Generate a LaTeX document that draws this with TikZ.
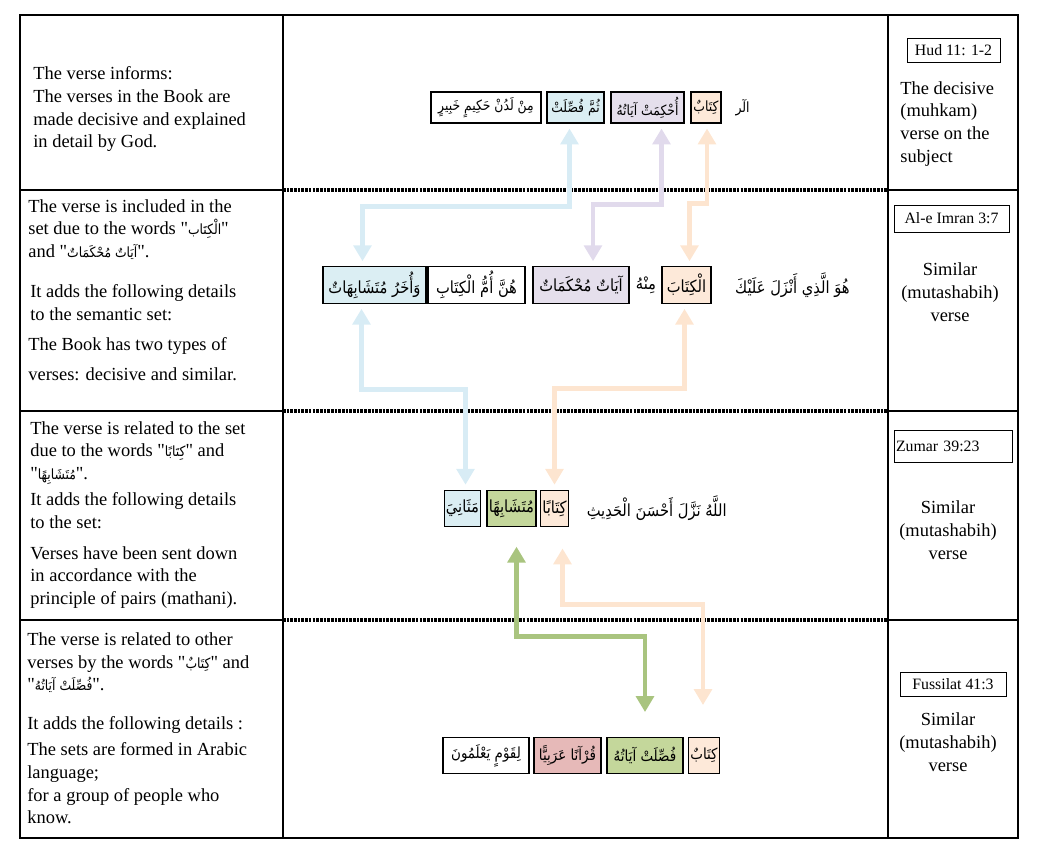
\documentclass[tikz,border=0pt]{standalone}
\usepackage{fontspec}
\setmainfont{Liberation Serif}[Ligatures=TeXOff]
\newfontfamily\arabicfont[Script=Arabic, FakeStretch=0.88]{DejaVu Sans}
\TeXXeTstate=1
\usetikzlibrary{arrows.meta, calc}
\definecolor{kitaborange}{RGB}{253,233,217}
\definecolor{muhkampurple}{RGB}{229,223,236}
\definecolor{fusilblue}{RGB}{219,238,243}
\definecolor{mutagreen}{RGB}{196,215,155}
\definecolor{arabired}{RGB}{230,185,184}
\definecolor{arrorange}{RGB}{253,229,208}
\definecolor{arrpurple}{RGB}{225,218,236}
\definecolor{arrblue}{RGB}{216,236,245}
\definecolor{arrgreen}{RGB}{169,196,127}
\newcommand{\arw}[1]{{\arabicfont\beginR #1\endR}}

\tikzset{
  grid/.style={line width=0.6pt},
  rowsep/.style={line width=2pt, dash pattern=on 1.5pt off 0.6pt},
  wordbox/.style={draw, line width=0.7pt, inner xsep=1pt, inner ysep=0pt, minimum height=0.73cm, font=\fontsize{9.5}{11}\selectfont},
  plainword/.style={inner sep=0pt, font=\fontsize{9.5}{11}\selectfont},
  hudword/.style={font=\fontsize{8}{10}\selectfont, minimum height=0.62cm},
  fussword/.style={font=\fontsize{8.7}{10.5}\selectfont},
  note/.style={align=left, inner sep=0pt, anchor=north west, font=\fontsize{10.5}{13}\selectfont},
  ref/.style={draw, line width=0.5pt, inner sep=1pt, font=\fontsize{9}{11}\selectfont},
  kind/.style={align=center, inner sep=0pt, font=\fontsize{10.5}{13}\selectfont},
  link/.style={{Triangle[width=10pt,length=9pt]}-{Triangle[width=10pt,length=9pt]}, line width=2.8pt, line join=miter, shorten <=2.8pt, shorten >=2.8pt},
}

\begin{document}
\begin{tikzpicture}[x=0.02cm, y=-0.02cm]
  \useasboundingbox (0,0) rectangle (1037,848);

  % table
  \draw[grid] (20,15) rectangle (1018,838);
  \draw[grid] (283,15) -- (283,838) (888,15) -- (888,838);
  \foreach \y in {190,411,620} {
    \draw[grid] (20,\y) -- (283,\y) (888,\y) -- (1018,\y);
    \draw[rowsep] (283,\y) -- (888,\y);
  }

  % left column
  \node[note] (n1) at (33,66) {The verse informs:\\The verses in the Book are\\made decisive and explained\\in detail by God.};
  \node[note] (n2a) at (28,199) {The verse is included in the\\set due to the words "{\footnotesize\arw{الْكِتَاب}}"\\and "{\footnotesize\arw{آيَاتٌ مُحْكَمَاتٌ}}".};
  \node[note] (n2b) at (30,284) {It adds the following details\\to the semantic set:};
  \node[note] (n2c) at (28,337) {The Book has two types of\\[4pt]verses: decisive and similar.};
  \node[note] (n3a) at (30,421) {The verse is related to the set\\due to the words "{\footnotesize\arw{كِتَابًا}}" and\\"{\footnotesize\arw{مُتَشَابِهًا}}".};
  \node[note] (n3b) at (30,492) {It adds the following details\\to the set:};
  \node[note] (n3c) at (30,546) {Verses have been sent down\\in accordance with the\\principle of pairs (mathani).};
  \node[note] (n4a) at (27,632) {The verse is related to other\\verses by the words "{\footnotesize\arw{كِتَابٌ}}" and\\"{\footnotesize\arw{فُصِّلَتْ آيَاتُهُ}}".};
  \node[note] (n4b) at (27,716) {It adds the following details :};
  \node[note] (n4c) at (27,742) {The sets are formed in Arabic\\language;\\for a group of people who\\know.};

  % right column
  \node[ref, minimum width=1.86cm, minimum height=0.48cm] (hud) at (953.5,50) {Hud 11: 1-2};
  \node[note] (k1) at (900,81) {The decisive\\(muhkam)\\verse on the\\subject};
  \node[ref, minimum width=2.3cm, minimum height=0.54cm] (imran) at (951.5,218.5) {Al-e Imran 3:7};
  \node[kind] (k2) at (950,292) {Similar\\(mutashabih)\\verse};
  \node[ref, text width=2.3cm, minimum height=0.64cm, align=left] (zumar) at (953.5,446) {Zumar 39:23};
  \node[kind] (k3) at (948,530) {Similar\\(mutashabih)\\verse};
  \node[ref, minimum width=2.12cm, minimum height=0.48cm] (fussilat) at (953,684) {Fussilat 41:3};
  \node[kind] (k4) at (948,742) {Similar\\(mutashabih)\\verse};

  % Hud 11:1
  \node[plainword, hudword, anchor=east] (r1alr) at (750,107.5) {\arw{الٓر}};
  \node[wordbox, hudword, fill=kitaborange, minimum width=0.6cm] (r1kitab) at (706,107.5) {\arw{كِتَابٌ}};
  \node[wordbox, hudword, fill=muhkampurple, minimum width=1.46cm] (r1muhkam) at (647.5,107.5) {\arw{أُحْكِمَتْ آيَاتُهُ}};
  \node[wordbox, hudword, fill=fusilblue, minimum width=1.14cm] (r1fussilat) at (575.5,107.5) {\arw{ثُمَّ فُصِّلَتْ}};
  \node[wordbox, hudword, minimum width=2.2cm] (r1rest) at (486,107.5) {\arw{مِنْ لَدُنْ حَكِيمٍ خَبِيرٍ}};

  % Al-e Imran 3:7
  \node[plainword, anchor=east] (r2start) at (850,285) {\arw{هُوَ الَّذِي أَنْزَلَ عَلَيْكَ}};
  \node[wordbox, fill=kitaborange, minimum width=0.98cm] (r2kitab) at (686.5,285) {\arw{الْكِتَابَ}};
  \node[plainword] (r2minhu) at (646,285) {\arw{مِنْهُ}};
  \node[wordbox, fill=muhkampurple, minimum width=1.92cm] (r2muhkam) at (581,285) {\arw{آيَاتٌ مُحْكَمَاتٌ}};
  \node[wordbox, minimum width=1.94cm] (r2umm) at (476.5,285) {\arw{هُنَّ أُمُّ الْكِتَابِ}};
  \node[wordbox, fill=fusilblue, minimum width=2.06cm] (r2mutash) at (374.5,285) {\arw{وَأُخَرُ مُتَشَابِهَاتٌ}};

  % Zumar 39:23
  \node[plainword, anchor=east] (r3start) at (727,508.5) {\arw{اللَّهُ نَزَّلَ أَحْسَنَ الْحَدِيثِ}};
  \node[wordbox, fill=kitaborange, minimum width=0.5cm] (r3kitab) at (554.5,508.5) {\arw{كِتَابًا}};
  \node[wordbox, fill=mutagreen, minimum width=0.98cm] (r3mutash) at (511.5,508.5) {\arw{مُتَشَابِهًا}};
  \node[wordbox, fill=fusilblue, minimum width=0.7cm] (r3mathani) at (462.5,508.5) {\arw{مَثَانِيَ}};

  % Fussilat 41:3
  \node[wordbox, fussword, fill=kitaborange, minimum width=0.56cm] (r4kitab) at (704,755.5) {\arw{كِتَابٌ}};
  \node[wordbox, fussword, fill=mutagreen, minimum width=1.52cm] (r4fussilat) at (645,755.5) {\arw{فُصِّلَتْ آيَاتُهُ}};
  \node[wordbox, fussword, fill=arabired, minimum width=1.34cm] (r4quran) at (567.5,755.5) {\arw{قُرْآنًا عَرَبِيًّا}};
  \node[wordbox, fussword, minimum width=1.72cm] (r4qawm) at (486,755.5) {\arw{لِقَوْمٍ يَعْلَمُونَ}};

  % links between the verses
  \draw[link, arrblue] ($(r1fussilat.south)+(-6,0)$) -- ++(0,83) -| ($(r2mutash.north)+(-12,0)$);
  \draw[link, arrpurple] ($(r1muhkam.south)+(14,0)$) -- ++(0,81) -| ($(r2muhkam.north)+(12,0)$);
  \draw[link, arrorange] ($(r1kitab.south)+(1,0)$) -- ++(0,80) -| ($(r2kitab.north)+(3,0)$);
  \draw[link, arrblue] ($(r2mutash.south)+(-13,0)$) -- ++(0,86) -| ($(r3mathani.north)+(3,0)$);
  \draw[link, arrorange] ($(r2kitab.south)+(-2,0)$) -- ++(0,85) -| (r3kitab.north);
  \draw[link, arrgreen, shorten <=11pt, shorten >=14pt] ($(r3mutash.south)+(5,0)$) -- ++(0,109) -| (r4fussilat.north);
  \draw[link, arrorange, shorten <=12pt, shorten >=18pt] ($(r3kitab.south)+(8,0)$) -- ++(0,77) -| ($(r4kitab.north)+(-1,0)$);
\end{tikzpicture}
\end{document}
